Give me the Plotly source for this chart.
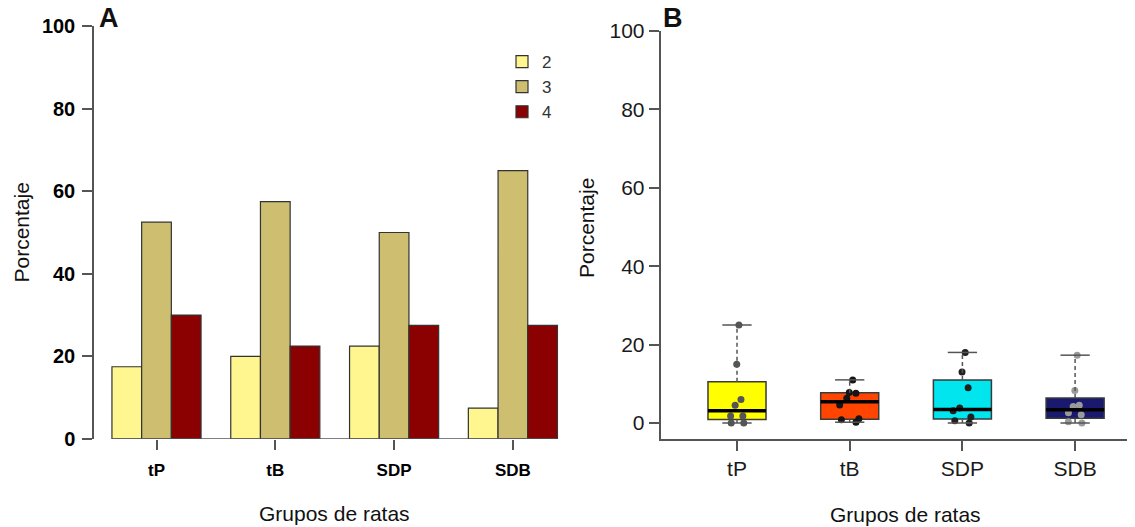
import math
import plotly.graph_objects as go

# ---------------- data ----------------
CATEGORIES = ["tP", "tB", "SDP", "SDB"]
SERIES_NAMES = ["2", "3", "4"]
VALUES_2 = [17.5, 20.0, 22.5, 7.5]
VALUES_3 = [52.5, 57.5, 50.0, 65.0]
VALUES_4 = [30.0, 22.5, 27.5, 27.5]

PTS_TP = [25, 15, 6, 4.5, 1.8, 1.8, 0, 0]
PTS_TB = [11, 7.8, 7.6, 6.3, 4.6, 1.1, 0.8, 0.2]
PTS_SDP = [18, 13, 9, 3.8, 3.1, 1.5, 0.6, 0]
PTS_SDB = [17.3, 8.3, 4.5, 4.2, 2.6, 2.1, 0.3, 0]

Y_TICKS = [0, 20, 40, 60, 80, 100]
X_TITLE = "Grupos de ratas"
Y_TITLE = "Porcentaje"

# ---------------- style ----------------
OFF = 8  # page body margin offset
W, H = 1135 - OFF, 527 - OFF
FONT = "Liberation Sans, Arial, sans-serif"
BAR_COLORS = ["#FFF68F", "#CDBE70", "#8B0000"]
BOX_COLORS = ["#FFFF00", "#FF4500", "#00E5EE", "#191970"]
PT_COLORS = ["#555555", "#151515", "#202020", "#9a9a9a"]
AXC = "#555555"
BOX_HALF = 0.2575
CAP_HALF = 0.13


def px_x(p):
    return (p - OFF) / W


def px_y(p):
    return 1 - (p - OFF) / H


def fivenum(vals):
    x = sorted(vals)
    n = len(x)
    n4 = math.floor((n + 3) / 2) / 2
    d = [1, n4, (n + 1) / 2, n + 1 - n4, n]
    return [0.5 * (x[math.floor(k) - 1] + x[math.ceil(k) - 1]) for k in d]


fig = go.Figure()

# ---------- Panel A: grouped bars ----------
pos_a = list(range(len(CATEGORIES)))
for name, vals, col in zip(SERIES_NAMES, [VALUES_2, VALUES_3, VALUES_4], BAR_COLORS):
    fig.add_trace(go.Bar(
        x=pos_a, y=vals, name=name,
        marker=dict(color=col, line=dict(color="#333333", width=1.2)),
        xaxis="x", yaxis="y",
    ))

# ---------- Panel B: boxplots ----------
groups = [PTS_TP, PTS_TB, PTS_SDP, PTS_SDB]
for i, (pts, fc, pc) in enumerate(zip(groups, BOX_COLORS, PT_COLORS), start=1):
    mn, q1, med, q3, mx = fivenum(pts)
    fig.add_trace(go.Box(
        x=[i], q1=[q1], median=[med], q3=[q3], lowerfence=[q1], upperfence=[q3],
        width=2 * BOX_HALF, whiskerwidth=0, fillcolor=fc,
        line=dict(color="#3a3a3a", width=1.5), boxpoints=False,
        showlegend=False, xaxis="x2", yaxis="y2", hoverinfo="skip",
    ))
    # dashed whiskers
    fig.add_trace(go.Scatter(
        x=[i, i, None, i, i], y=[q3, mx, None, mn, q1], mode="lines",
        line=dict(color="#555555", width=1.5, dash="4px,3px"),
        showlegend=False, xaxis="x2", yaxis="y2", hoverinfo="skip",
    ))
    # staples
    fig.add_trace(go.Scatter(
        x=[i - CAP_HALF, i + CAP_HALF, None, i - CAP_HALF, i + CAP_HALF],
        y=[mx, mx, None, mn, mn], mode="lines",
        line=dict(color="#555555", width=1.5),
        showlegend=False, xaxis="x2", yaxis="y2", hoverinfo="skip",
    ))
    # thick median
    fig.add_trace(go.Scatter(
        x=[i - BOX_HALF, i + BOX_HALF], y=[med, med], mode="lines",
        line=dict(color="#000000", width=3.5),
        showlegend=False, xaxis="x2", yaxis="y2", hoverinfo="skip",
    ))
    # jittered points
    fig.add_trace(go.Box(
        x=[i] * len(pts), y=pts, boxpoints="all", jitter=0.45, pointpos=0,
        width=2 * BOX_HALF, fillcolor="rgba(0,0,0,0)",
        line=dict(color="rgba(0,0,0,0)", width=0),
        marker=dict(color=pc, size=7),
        showlegend=False, xaxis="x2", yaxis="y2",
    ))

# ---------- layout ----------
a_left, a_right = 94, 575.5
a_unit = 118.8
a_c0 = 156.5
b_left, b_right = 660.5, 1135
b_unit = 112.7
b_c1 = 737

fig.update_layout(
    width=W, height=H, autosize=False,
    margin=dict(l=0, r=0, t=0, b=0, pad=0, autoexpand=False),
    paper_bgcolor="white", plot_bgcolor="white",
    font=dict(family=FONT, color="#000000"),
    barmode="group", bargap=0.25, bargroupgap=0,
    showlegend=True,
    legend=dict(
        x=px_x(502), y=px_y(44), xanchor="left", yanchor="top",
        font=dict(size=17, color="#333333", family=FONT),
        bgcolor="rgba(0,0,0,0)", itemwidth=30, tracegroupgap=0,
    ),
    xaxis=dict(
        domain=[px_x(a_left), px_x(a_right)],
        range=[(a_left - a_c0) / a_unit, (a_right - a_c0) / a_unit],
        tickmode="array", tickvals=pos_a, ticktext=CATEGORIES,
        ticks="outside", ticklen=10, tickwidth=1.5, tickcolor=AXC,
        showline=False, showgrid=False, zeroline=False,
        tickfont=dict(size=17, family=FONT, weight="bold", color="#000"),
        ticklabelstandoff=6,
        anchor="y", fixedrange=True, automargin=False,
    ),
    yaxis=dict(
        domain=[px_y(439), px_y(26)], range=[0, 100],
        tickmode="array", tickvals=Y_TICKS,
        ticks="outside", ticklen=10, tickwidth=1.5, tickcolor=AXC,
        showline=True, linecolor=AXC, linewidth=1.5,
        showgrid=False, zeroline=False,
        tickfont=dict(size=20, family=FONT, weight="bold", color="#000"),
        ticklabelstandoff=3, anchor="x", fixedrange=True, automargin=False,
    ),
    xaxis2=dict(
        domain=[px_x(b_left), px_x(b_right)],
        range=[1 + (b_left - b_c1) / b_unit, 1 + (b_right - b_c1) / b_unit],
        tickmode="array", tickvals=[1, 2, 3, 4], ticktext=CATEGORIES,
        ticks="outside", ticklen=10, tickwidth=1.5, tickcolor=AXC,
        showline=True, linecolor=AXC, linewidth=1.5,
        showgrid=False, zeroline=False,
        tickfont=dict(size=21, family=FONT, color="#1a1a1a"),
        ticklabelstandoff=0, anchor="y2", fixedrange=True, automargin=False,
    ),
    yaxis2=dict(
        domain=[px_y(439), px_y(31)],
        range=[-(439 - 423) / 3.92, 100],
        tickmode="array", tickvals=Y_TICKS,
        ticks="outside", ticklen=10, tickwidth=1.5, tickcolor=AXC,
        showline=True, linecolor=AXC, linewidth=1.5,
        showgrid=False, zeroline=False,
        tickfont=dict(size=21, family=FONT, color="#1a1a1a"),
        ticklabelstandoff=0, anchor="x2", fixedrange=True, automargin=False,
    ),
)

# baseline under the bars of panel A (spans the bar groups)
half_group = (1 - 0.25) / 2
fig.add_shape(type="line", xref="x", yref="y",
              x0=pos_a[0] - half_group, x1=pos_a[-1] + half_group, y0=0, y1=0,
              line=dict(color=AXC, width=1.5), layer="above")

ann = [
    dict(text="<b>A</b>", x=px_x(109), y=px_y(18), size=27),
    dict(text="<b>B</b>", x=px_x(673), y=px_y(18), size=27),
    dict(text=X_TITLE, x=px_x(334), y=px_y(513), size=21),
    dict(text=X_TITLE, x=px_x(905), y=px_y(514), size=21),
]
for a in ann:
    fig.add_annotation(text=a["text"], x=a["x"], y=a["y"], xref="paper", yref="paper",
                       xanchor="center", yanchor="middle", showarrow=False,
                       font=dict(size=a["size"], family=FONT, color="#111111"))
for xx, yy in [(21, 232.5), (586, 228)]:
    fig.add_annotation(text=Y_TITLE, x=px_x(xx), y=px_y(yy), xref="paper", yref="paper",
                       xanchor="center", yanchor="middle", showarrow=False, textangle=-90,
                       font=dict(size=21, family=FONT, color="#111111"))

fig.write_html("out.html")
